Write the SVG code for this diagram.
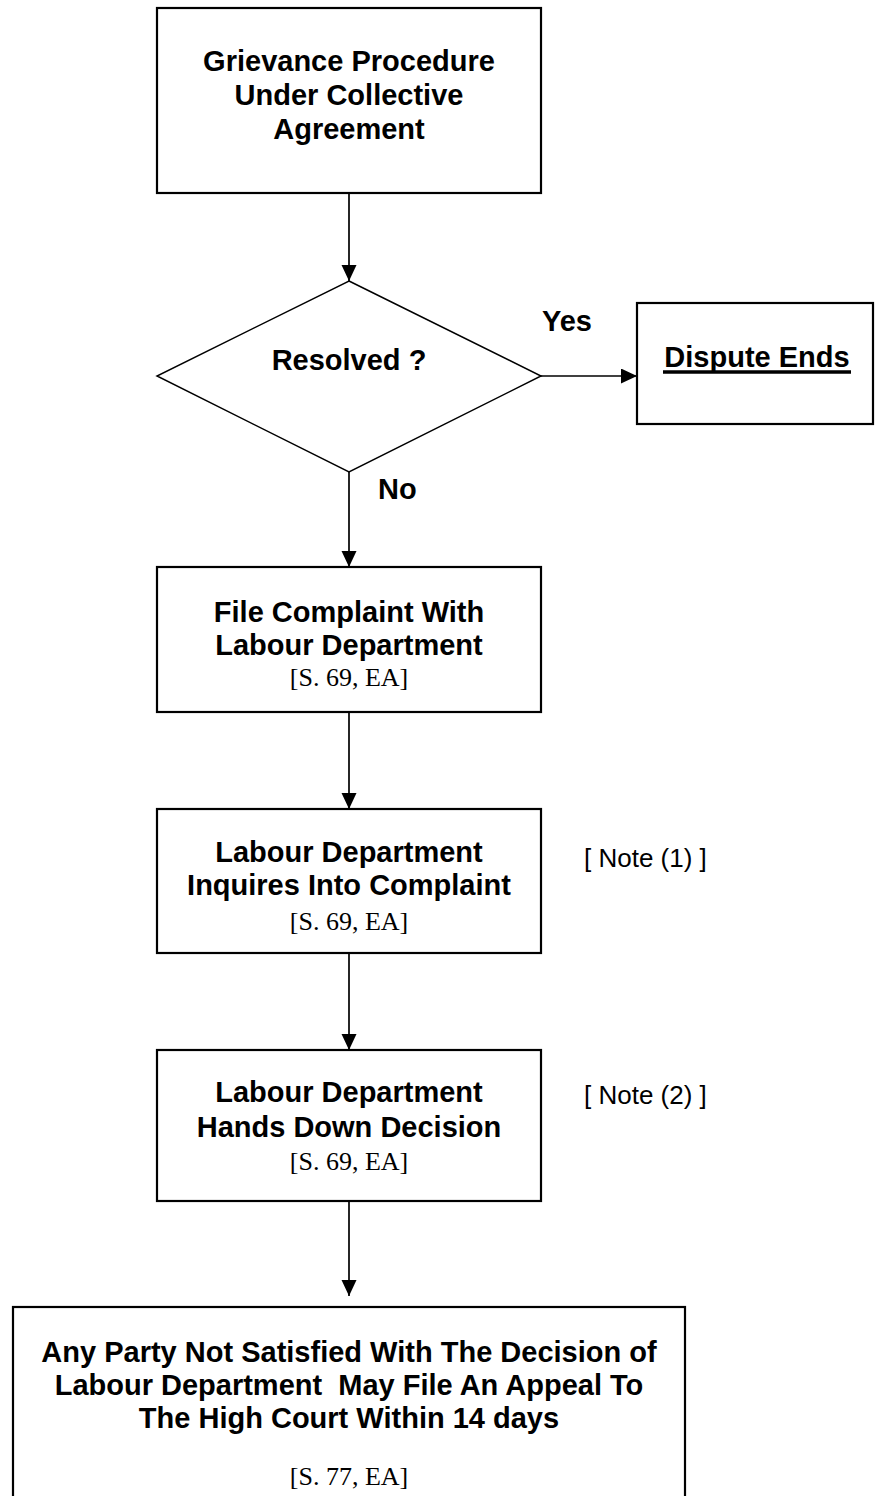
<svg xmlns="http://www.w3.org/2000/svg" width="875" height="1496" viewBox="0 0 875 1496">
  <style>
    .box { fill: #ffffff; stroke: #000000; stroke-width: 2.2; }
    .dia { fill: #ffffff; stroke: #000000; stroke-width: 1.5; }
    .edge { fill: none; stroke: #000000; stroke-width: 1.7; }
    .h { font-family: "Liberation Sans", Arial, sans-serif; font-weight: bold; font-size: 29px; fill: #000000; text-anchor: middle; }
    .lbl { font-family: "Liberation Sans", Arial, sans-serif; font-weight: bold; font-size: 29px; fill: #000000; }
    .ref { font-family: "Liberation Serif", "Times New Roman", serif; font-size: 26px; fill: #000000; text-anchor: middle; }
    .note { font-family: "Liberation Sans", Arial, sans-serif; font-size: 26px; fill: #000000; }
  </style>
  <defs>
    <marker id="arrow" markerUnits="userSpaceOnUse" markerWidth="16" markerHeight="16" refX="16" refY="7.5" orient="auto">
      <path d="M0,0 L16,7.5 L0,15 Z" fill="#000000"/>
    </marker>
  </defs>

  <rect width="875" height="1496" fill="#ffffff"/>

  <!-- connectors -->
  <g id="connectors">
    <line class="edge" x1="349" y1="193" x2="349" y2="281" marker-end="url(#arrow)"/>
    <line class="edge" x1="541" y1="376" x2="637" y2="376" marker-end="url(#arrow)"/>
    <line class="edge" x1="349" y1="472" x2="349" y2="567" marker-end="url(#arrow)"/>
    <line class="edge" x1="349" y1="712" x2="349" y2="809" marker-end="url(#arrow)"/>
    <line class="edge" x1="349" y1="953" x2="349" y2="1050" marker-end="url(#arrow)"/>
    <line class="edge" x1="349" y1="1201" x2="349" y2="1296" marker-end="url(#arrow)"/>
    <text class="lbl" x="542" y="331">Yes</text>
    <text class="lbl" x="378" y="499">No</text>
  </g>

  <g id="grievance">
    <rect class="box" x="157" y="8" width="384" height="185"/>
    <text class="h" x="349" y="71">Grievance Procedure</text>
    <text class="h" x="349" y="105">Under Collective</text>
    <text class="h" x="349" y="139">Agreement</text>
  </g>

  <g id="resolved">
    <polygon class="dia" points="349,281 541,376 349,472 157,376"/>
    <text class="h" x="349" y="370">Resolved ?</text>
  </g>

  <g id="dispute-ends">
    <rect class="box" x="637" y="303" width="236" height="121"/>
    <text class="h" x="757" y="367">Dispute Ends</text>
    <!-- heading underline -->
    <line x1="663" y1="372" x2="851" y2="372" stroke="#000000" stroke-width="3.5"/>
  </g>

  <g id="file-complaint">
    <rect class="box" x="157" y="567" width="384" height="145"/>
    <text class="h" x="349" y="622">File Complaint With</text>
    <text class="h" x="349" y="655">Labour Department</text>
    <text class="ref" x="349" y="686">[S. 69, EA]</text>
  </g>

  <g id="inquiry">
    <rect class="box" x="157" y="809" width="384" height="144"/>
    <text class="h" x="349" y="862">Labour Department</text>
    <text class="h" x="349" y="895">Inquires Into Complaint</text>
    <text class="ref" x="349" y="930">[S. 69, EA]</text>
  </g>
  <text id="note-1" class="note" x="584" y="867">[ Note (1) ]</text>

  <g id="decision">
    <rect class="box" x="157" y="1050" width="384" height="151"/>
    <text class="h" x="349" y="1102">Labour Department</text>
    <text class="h" x="349" y="1137">Hands Down Decision</text>
    <text class="ref" x="349" y="1170">[S. 69, EA]</text>
  </g>
  <text id="note-2" class="note" x="584" y="1104">[ Note (2) ]</text>

  <g id="appeal">
    <rect class="box" x="13" y="1307" width="672" height="200"/>
    <text class="h" x="349" y="1362">Any Party Not Satisfied With The Decision of</text>
    <text class="h" x="349" y="1395" xml:space="preserve">Labour Department  May File An Appeal To</text>
    <text class="h" x="349" y="1428">The High Court Within 14 days</text>
    <text class="ref" x="349" y="1485">[S. 77, EA]</text>
  </g>
</svg>
